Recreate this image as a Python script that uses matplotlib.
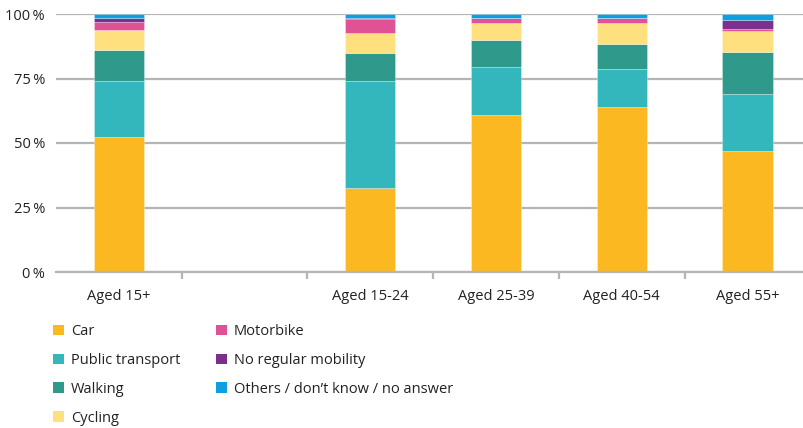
import numpy as np
import matplotlib.pyplot as plt
from matplotlib.patches import Patch

plt.rcParams['font.family'] = ['Open Sans', 'DejaVu Sans']

# slot 1 is an empty gap between the total and the age groups
categories = ['Aged 15+', '', 'Aged 15-24', 'Aged 25-39', 'Aged 40-54', 'Aged 55+']

car = [52.3, 0, 32.6, 60.9, 64.0, 46.9]
public_transport = [21.7, 0, 41.4, 18.6, 14.7, 22.1]
walking = [12.0, 0, 10.9, 10.4, 9.7, 16.3]
cycling = [7.8, 0, 7.7, 6.6, 8.1, 8.1]
motorbike = [3.1, 0, 5.5, 1.9, 1.9, 0.8]
no_mobility = [1.5, 0, 0.5, 0.2, 0.2, 3.5]
others = [1.6, 0, 1.4, 1.4, 1.4, 2.3]

series = [
    ('Car', car, '#fbb820'),
    ('Public transport', public_transport, '#33b7bc'),
    ('Walking', walking, '#2f9a8c'),
    ('Cycling', cycling, '#fee07e'),
    ('Motorbike', motorbike, '#e05296'),
    ('No regular mobility', no_mobility, '#7c2f8c'),
    ('Others / don\u2019t know / no answer', others, '#0d9fe0'),
]

fig = plt.figure(figsize=(8.04, 4.28), dpi=100)
ax = fig.add_axes([56 / 804, 156 / 428, 748 / 804, 258 / 428])

x = np.arange(len(categories))
bottom = np.zeros(len(categories))
for name, vals, col in series:
    vals = np.array(vals)
    ax.bar(x, vals, 0.4, bottom=bottom, color=col, edgecolor=(1, 1, 1, 0.35),
           linewidth=0.6, zorder=3)
    bottom += vals

ax.set_xlim(-0.5, 5.45)
ax.set_ylim(0, 100)
ax.set_yticks([0, 25, 50, 75, 100])
ax.set_yticklabels(['0\u2009%', '25\u2009%', '50\u2009%', '75\u2009%', '100\u2009%'])
ax.yaxis.grid(True, color='#b5b5b5', linewidth=1.6, zorder=0)
ax.tick_params(axis='y', length=0, pad=8, labelsize=10.5, labelcolor='#222222')

ax.set_xticks(x)
ax.set_xticklabels(categories)
ax.set_xticks(np.arange(0.5, 5.5, 1), minor=True)
ax.tick_params(axis='x', which='major', length=0, pad=12, labelsize=10.5, labelcolor='#222222')
ax.tick_params(axis='x', which='minor', length=5, width=1.6, color='#b5b5b5')

for s in ['top', 'right', 'left']:
    ax.spines[s].set_visible(False)
ax.spines['bottom'].set_color('#b5b5b5')
ax.spines['bottom'].set_linewidth(1.6)
ax.spines['bottom'].set_zorder(4)

handles = [Patch(facecolor=c, edgecolor='none', label=n) for n, _, c in series]
fig.legend(handles=handles, loc='upper left', bbox_to_anchor=(40 / 804, 1 - 311 / 428),
           ncol=2, frameon=False, fontsize=10.5, handlelength=0.75, handleheight=0.75,
           handletextpad=0.45, columnspacing=2.5, labelspacing=0.95, labelcolor='#222222')

fig.savefig('out.png', dpi=100)
